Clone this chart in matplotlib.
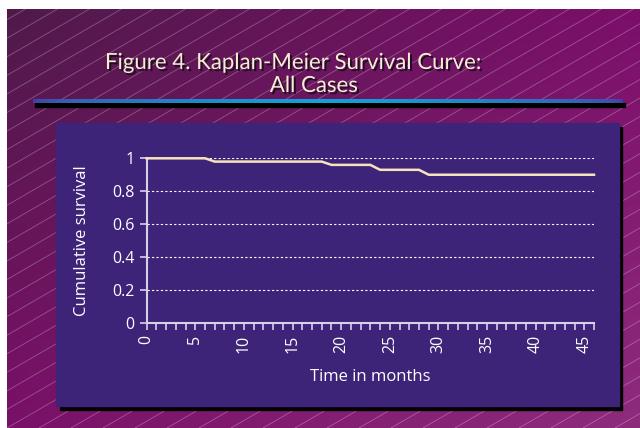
import numpy as np
import matplotlib
matplotlib.use('Agg')
import matplotlib.pyplot as plt
import matplotlib.patheffects as pe
from matplotlib.patches import Rectangle
from matplotlib.colors import to_rgb

# survival data (months, cumulative survival)
months = [0, 6, 7, 18, 19, 23, 24, 28, 29, 46]
survival = [1.0, 1.0, 0.98, 0.98, 0.96, 0.96, 0.93, 0.93, 0.90, 0.90]
xticks = list(range(0, 46, 5))
yticks = [0, 0.2, 0.4, 0.6, 0.8, 1]
ytick_labels = ['0', '0.2', '0.4', '0.6', '0.8', '1']

title1 = 'Figure 4. Kaplan-Meier Survival Curve:'
title2 = 'All Cases'

W, H = 640, 428
plt.rcParams['font.family'] = ['Open Sans', 'DejaVu Sans']
fig = plt.figure(figsize=(6.4, 4.28), dpi=100)
fig.patch.set_facecolor('white')

def fx(px):
    return px / W

def fy(py):
    return 1 - py / H

# purple background with gradient
bg = fig.add_axes([fx(7), 0, 1 - fx(7), 1 - 9 / H])
bg.set_axis_off()
tl, tr = np.array(to_rgb('#501a4a')), np.array(to_rgb('#7c0e6a'))
bl, br = np.array(to_rgb('#7a1068')), np.array(to_rgb('#8e2c7c'))
u = np.linspace(0, 1, 200)[None, :, None]
v = np.linspace(0, 1, 200)[:, None, None]
img = (1 - v) * ((1 - u) * tl + u * tr) + v * ((1 - u) * bl + u * br)
bg.imshow(img, extent=[0, 1, 0, 1], aspect='auto', origin='upper')
# thin diagonal hatch lines
bw, bh = W - 7, H - 9
for k in np.arange(-50, 30):
    x0 = k * 32
    xs = np.array([x0, x0 + 1200])
    ys = np.array([0, 1200 * 0.58])
    bg.plot(xs / bw, ys / bh, color='white', alpha=0.28, lw=0.6)
bg.set_xlim(0, 1)
bg.set_ylim(0, 1)

# title bar: blue gradient over black line
fig.patches.append(Rectangle((fx(35), fy(107)), fx(625) - fx(35), 4 / H,
                             transform=fig.transFigure, color='black', zorder=2))
bar = fig.add_axes([fx(33), fy(103), fx(623) - fx(33), 4 / H], zorder=3)
bar.set_axis_off()
c1, c2 = np.array(to_rgb('#4a3aa0')), np.array(to_rgb('#10a4dc'))
t = np.linspace(0, 1, 300)
w = np.clip(1 - np.abs(t - 0.5) / 0.5, 0, 1) ** 0.5
bar.imshow((c1 * (1 - w[:, None]) + c2 * w[:, None])[None, :, :], aspect='auto',
           extent=[0, 1, 0, 1])

shadow = [pe.withSimplePatchShadow(offset=(1.5, -1.5), shadow_rgbFace='#1a0a20', alpha=0.9)]
tfont = ['Lato', 'DejaVu Sans']
fig.text(fx(294), fy(63), title1, ha='center', va='center', fontsize=16,
         color='#f5ecd2', family=tfont, path_effects=shadow, zorder=5)
fig.text(fx(314), fy(86), title2, ha='center', va='center', fontsize=16,
         color='#f5ecd2', family=tfont, path_effects=shadow, zorder=5)

# panel with black drop shadow
fig.patches.append(Rectangle((fx(60), fy(410)), fx(622) - fx(60), (410 - 127) / H,
                             transform=fig.transFigure, color='black', zorder=2))
fig.patches.append(Rectangle((fx(56), fy(406)), fx(619) - fx(56), (406 - 123) / H,
                             transform=fig.transFigure, color='#3e2478', zorder=3))

# main plot
ax = fig.add_axes([fx(146.7), fy(322.7), fx(594) - fx(146.7), (322.7 - 158.3) / H], zorder=4)
ax.patch.set_alpha(0)
ax.plot(months, survival, color='#f8e4bc', lw=1.8, clip_on=False, zorder=5)
ax.set_xlim(0, 46)
ax.set_ylim(0, 1)
ax.set_xticks(xticks)
ax.set_xticks(range(0, 47), minor=True)
ax.set_yticks(yticks)
ax.set_yticklabels(ytick_labels)
for s in ['top', 'right']:
    ax.spines[s].set_visible(False)
for s in ['left', 'bottom']:
    ax.spines[s].set_color('#d8d0e8')
    ax.spines[s].set_linewidth(1.5)
ax.tick_params(axis='both', which='both', colors='#d8d0e8', length=5, width=1.2,
               labelcolor='white', labelsize=11.5)
ax.tick_params(axis='x', labelrotation=90, pad=4)
ax.tick_params(axis='y', pad=4)
for y in yticks[1:]:
    ax.axhline(y, color='white', lw=0.8, ls=(0, (2, 2)), zorder=1)
ax.set_xlabel('Time in months', color='white', fontsize=12, labelpad=11)
ax.set_ylabel('Cumulative survival', color='white', fontsize=12, labelpad=16)

fig.savefig('out.png', dpi=100, facecolor='white')
